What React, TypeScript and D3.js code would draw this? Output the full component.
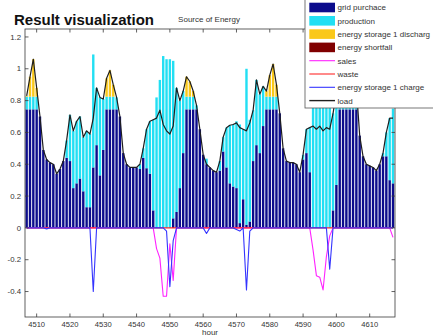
import React from 'react';
import * as d3 from 'd3';

// ---- data (hours 4507 .. 4617) ----
const startHour = 4507;

const load = [
  0.83, 0.95, 1.06, 0.88, 0.70, 0.49, 0.43, 0.41, 0.40, 0.34,
  0.37, 0.42, 0.55, 0.71, 0.61, 0.67, 0.70, 0.57, 0.61, 0.59,
  0.69, 0.88, 0.82, 0.81, 0.94, 0.99, 0.90, 0.82, 0.70, 0.47,
  0.40, 0.38, 0.38, 0.38, 0.40, 0.50, 0.62, 0.67, 0.68, 0.69,
  0.74, 0.65, 0.61, 0.59, 0.64, 0.88, 0.80, 0.86, 0.95, 0.92,
  0.86, 0.77, 0.62, 0.46, 0.40, 0.38, 0.36, 0.35, 0.42, 0.57,
  0.63, 0.645, 0.65, 0.66, 0.63, 0.62, 0.61, 0.66, 0.74, 0.93,
  0.84, 0.89, 0.86, 0.96, 1.03, 0.90, 0.72, 0.50, 0.42, 0.41,
  0.41, 0.40, 0.35, 0.46, 0.62, 0.63, 0.64, 0.62, 0.64, 0.61,
  0.63, 0.62, 0.72, 0.85, 0.95, 0.93, 0.98, 1.04, 0.95, 0.88,
  0.58, 0.45, 0.40, 0.39, 0.38, 0.36, 0.40, 0.47, 0.60, 0.69,
  0.69,
];

const gridPurchase = [
  0.745, 0.745, 0.745, 0.745, 0.70, 0.49, 0.43, 0.41, 0.40, 0.34,
  0.37, 0.42, 0.44, 0.42, 0.25, 0.28, 0.31, 0.23, 0.13, 0.13,
  0.38, 0.52, 0.33, 0.49, 0.745, 0.745, 0.745, 0.745, 0.70, 0.47,
  0.40, 0.38, 0.38, 0.38, 0.37, 0.44, 0.375, 0.34, 0.11, 0.0,
  0.0, 0.0, 0.0, 0.0, 0.06, 0.10, 0.25, 0.47, 0.745, 0.745,
  0.745, 0.745, 0.62, 0.46, 0.40, 0.38, 0.36, 0.35, 0.36, 0.48,
  0.38, 0.28, 0.26, 0.25, 0.03, 0.18, 0.02, 0.04, 0.42, 0.52,
  0.47, 0.64, 0.745, 0.745, 0.745, 0.745, 0.72, 0.50, 0.42, 0.41,
  0.41, 0.40, 0.35, 0.43, 0.47, 0.35, 0.0, 0.0, 0.0, 0.0,
  0.0, 0.0, 0.11, 0.27, 0.745, 0.745, 0.745, 0.745, 0.745, 0.745,
  0.58, 0.45, 0.40, 0.39, 0.38, 0.36, 0.40, 0.45, 0.45, 0.30,
  0.28,
];

const production = [
  0.08, 0.08, 0.08, 0.08, 0, 0, 0, 0, 0, 0,
  0, 0, 0.11, 0.29, 0.36, 0.39, 0.39, 0.34, 0.48, 0.46,
  0.71, 0.36, 0.49, 0.32, 0.08, 0.08, 0.08, 0.075, 0, 0,
  0, 0, 0, 0, 0.03, 0.06, 0.245, 0.33, 0.57, 0.82,
  0.93, 1.08, 1.06, 1.06, 0.99, 0.78, 0.55, 0.39, 0.08, 0.08,
  0.08, 0.025, 0, 0, 0.035, 0, 0, 0, 0.06, 0.09,
  0.25, 0.365, 0.39, 0.42, 0.62, 0.44, 0.98, 0.64, 0.32, 0.41,
  0.37, 0.25, 0.08, 0.08, 0.08, 0.08, 0, 0, 0, 0,
  0, 0, 0, 0.03, 0.15, 0.28, 0.78, 0.92, 0.95, 1.00,
  0.81, 0.93, 0.61, 0.58, 0.20, 0.08, 0.08, 0.08, 0.08, 0.08,
  0, 0, 0, 0, 0, 0, 0, 0.02, 0.15, 0.39,
  0.47,
];

const storageDischarge = [
  0.005, 0.125, 0.235, 0.055, 0, 0, 0, 0, 0, 0,
  0, 0, 0, 0, 0, 0, 0, 0, 0, 0,
  0, 0, 0, 0, 0.115, 0.165, 0.075, 0, 0, 0,
  0, 0, 0, 0, 0, 0, 0, 0, 0, 0,
  0, 0, 0, 0, 0, 0, 0, 0, 0.125, 0.095,
  0.035, 0, 0, 0, 0, 0, 0, 0, 0, 0,
  0, 0, 0, 0, 0, 0, 0, 0, 0, 0,
  0, 0, 0.035, 0.135, 0.205, 0.075, 0, 0, 0, 0,
  0, 0, 0, 0, 0, 0, 0, 0, 0, 0,
  0, 0, 0, 0, 0, 0.105, 0.155, 0.215, 0.125, 0.055,
  0, 0, 0, 0, 0, 0, 0, 0, 0, 0,
  0,
];

const shortfall = [
  0, 0, 0, 0, 0, 0, 0, 0, 0, 0,
  0, 0, 0, 0, 0, 0, 0, 0, 0, 0,
  0, 0, 0, 0, 0, 0, 0, 0, 0, 0,
  0, 0, 0, 0, 0, 0, 0, 0, 0, 0,
  0, 0, 0, 0, 0, 0, 0, 0, 0, 0,
  0, 0, 0, 0, 0, 0, 0, 0, 0, 0,
  0, 0, 0, 0, 0, 0, 0, 0, 0, 0,
  0, 0, 0, 0, 0, 0, 0, 0, 0, 0,
  0, 0, 0, 0, 0, 0, 0, 0, 0, 0,
  0, 0, 0, 0, 0, 0, 0, 0, 0, 0,
  0, 0, 0, 0, 0, 0, 0, 0, 0, 0,
  0,
];

const sales = [
  0, 0, 0, 0, 0, 0, 0, 0, 0, 0,
  0, 0, 0, 0, 0, 0, 0, 0, 0, 0,
  0, 0, 0, 0, 0, 0, 0, 0, 0, 0,
  0, 0, 0, 0, 0, 0, 0, 0, 0, -0.13,
  -0.19, -0.43, -0.43, -0.10, -0.33, 0, 0, 0, 0, 0,
  0, 0, 0, 0, 0, 0, 0, 0, 0, 0,
  0, 0, 0, 0, 0, 0, 0, 0, 0, 0,
  0, 0, 0, 0, 0, 0, 0, 0, 0, 0,
  0, 0, 0, 0, 0, 0, -0.14, -0.30, -0.31, -0.39,
  -0.18, -0.05, 0, 0, 0, 0, 0, 0, 0, 0,
  0, 0, 0, 0, 0, 0, 0, 0, 0, 0,
  -0.06,
];

const waste = [
  0, 0, 0, 0, 0, 0, 0, 0, 0, 0,
  0, 0, 0, 0, 0, 0, 0, 0, 0, 0,
  0, 0, 0, 0, 0, 0, 0, 0, 0, 0,
  0, 0, 0, 0, 0, 0, 0, 0, 0, 0,
  0, 0, 0, 0, 0, 0, 0, 0, 0, 0,
  0, 0, 0, 0, 0, 0, 0, 0, 0, 0,
  0, 0, 0, 0, 0, 0, 0, 0, 0, 0,
  0, 0, 0, 0, 0, 0, 0, 0, 0, 0,
  0, 0, 0, 0, 0, 0, 0, 0, 0, 0,
  0, 0, 0, 0, 0, 0, 0, 0, 0, 0,
  0, 0, 0, 0, 0, 0, 0, 0, 0, 0,
  0,
];

const storageCharge = [
  0, 0, 0, 0, 0, 0, -0.006, 0, 0, 0,
  0, 0, 0, 0, 0, 0, 0, 0, 0, 0,
  -0.40, 0, 0, 0, 0, 0, 0, 0, 0, 0,
  0, 0, 0, 0, 0, 0, 0, 0, 0, 0,
  0, 0, -0.02, -0.37, -0.08, 0, 0, 0, 0, 0,
  0, 0, 0, 0, -0.035, 0, 0, 0, 0, 0,
  0, 0, 0, -0.01, -0.02, 0, -0.39, -0.02, 0, 0,
  0, 0, 0, 0, 0, 0, 0, 0, 0, 0,
  0, 0, 0, 0, 0, 0, 0, 0, 0, 0,
  0, -0.26, 0, 0, 0, 0, 0, 0, 0, 0,
  0, 0, 0, 0, 0, 0, 0, 0, 0, 0,
  0,
];

const xTicks = [4510, 4520, 4530, 4540, 4550, 4560, 4570, 4580, 4590, 4600, 4610];
const yTicks = [-0.4, -0.2, 0, 0.2, 0.4, 0.6, 0.8, 1, 1.2];
const yTickLabels = ['-0.4', '-0.2', '0', '0.2', '0.4', '0.6', '0.8', '1', '1.2'];

const legendLabels = [
  'grid purchace',
  'production',
  'energy storage 1 discharg',
  'energy shortfall',
  'sales',
  'waste',
  'energy storage 1 charge',
  'load',
];

// ---- styling ----
const W = 433;
const H = 336;
const AX = { left: 25, right: 395, top: 29, bottom: 317 };
const barColors = ['#0c0c8c', '#22dff3', '#fac81a', '#800000'];
const lineColors = ['#ff22ff', '#ff2a2a', '#3434ff', '#1e1e1e'];
const FONT = "'Liberation Sans', Arial, Helvetica, sans-serif";
const axisColor = '#3a3a3a';
const textColor = '#333';

export default function App() {
  const hours = load.map((_, i) => startHour + i);
  const xs = d3.scaleLinear().domain([4506.5, 4617.6]).range([AX.left, AX.right]);
  const ys = d3.scaleLinear().domain([-0.56, 1.25]).range([AX.bottom, AX.top]);
  const step = xs(1) - xs(0);
  const bw = step * 0.72;

  const barSeries = [gridPurchase, production, storageDischarge, shortfall];
  const rects: JSX.Element[] = [];
  hours.forEach((h, i) => {
    let base = 0;
    barSeries.forEach((s, k) => {
      const v = s[i];
      if (v > 0) {
        const y0 = ys(base);
        const y1 = ys(base + v);
        rects.push(
          <rect
            key={`b${k}-${i}`}
            x={xs(h) - bw / 2}
            y={y1}
            width={bw}
            height={y0 - y1}
            fill={barColors[k]}
          />
        );
      }
      base += v;
    });
  });

  const lineGen = d3
    .line<number>()
    .x((_, i) => xs(hours[i]))
    .y((d) => ys(d));
  const lineSeries = [sales, waste, storageCharge, load];

  const tickLen = 3.5;
  const legendX = 305;
  const legendTop = -2;
  const legendBottom = 108;
  const rowY0 = 7.5;
  const rowStep = 13.3;

  return (
    <div style={{ position: 'absolute', left: 0, top: 0 }}>
      <svg width={W} height={H} style={{ display: 'block', background: '#fff', overflow: 'hidden' }}>
        <rect x={0} y={0} width={W} height={H} fill="#fff" />
        <defs>
          <clipPath id="axclip">
            <rect x={AX.left} y={AX.top} width={AX.right - AX.left} height={AX.bottom - AX.top} />
          </clipPath>
        </defs>

        {/* bars */}
        <g clipPath="url(#axclip)">{rects}</g>

        {/* lines */}
        <g clipPath="url(#axclip)">
          {lineSeries.map((s, k) => (
            <path
              key={`l${k}`}
              d={lineGen(s) || ''}
              fill="none"
              stroke={lineColors[k]}
              strokeWidth={k === 3 ? 1.2 : 1.1}
              strokeLinejoin="round"
            />
          ))}
        </g>

        {/* axes box */}
        <rect
          x={AX.left}
          y={AX.top}
          width={AX.right - AX.left}
          height={AX.bottom - AX.top}
          fill="none"
          stroke={axisColor}
          strokeWidth={0.8}
        />
        {xTicks.map((t) => (
          <g key={`xt${t}`}>
            <line x1={xs(t)} x2={xs(t)} y1={AX.bottom} y2={AX.bottom - tickLen} stroke={axisColor} strokeWidth={0.8} />
            <line x1={xs(t)} x2={xs(t)} y1={AX.top} y2={AX.top + tickLen} stroke={axisColor} strokeWidth={0.8} />
            <text x={xs(t)} y={326.5} textAnchor="middle" fontFamily={FONT} fontSize={7.6} fill={textColor}>
              {t}
            </text>
          </g>
        ))}
        {yTicks.map((t, i) => (
          <g key={`yt${i}`}>
            <line x1={AX.left} x2={AX.left + tickLen} y1={ys(t)} y2={ys(t)} stroke={axisColor} strokeWidth={0.8} />
            <line x1={AX.right} x2={AX.right - tickLen} y1={ys(t)} y2={ys(t)} stroke={axisColor} strokeWidth={0.8} />
            <text x={21} y={ys(t) + 2.7} textAnchor="end" fontFamily={FONT} fontSize={7.8} fill={textColor}>
              {yTickLabels[i]}
            </text>
          </g>
        ))}

        {/* titles */}
        <text x={14} y={24.5} fontFamily={FONT} fontWeight="bold" fontSize={15} fill="#111">
          Result visualization
        </text>
        <text x={209} y={22} textAnchor="middle" fontFamily={FONT} fontSize={8} fill={textColor}>
          Source of Energy
        </text>
        <text x={(AX.left + AX.right) / 2} y={335} textAnchor="middle" fontFamily={FONT} fontSize={8} fill={textColor}>
          hour
        </text>

        {/* legend */}
        <rect
          x={legendX}
          y={legendTop}
          width={W - legendX + 20}
          height={legendBottom - legendTop}
          fill="#fff"
          stroke="#555"
          strokeWidth={0.8}
        />
        {legendLabels.map((lab, i) => {
          const cy = rowY0 + rowStep * i;
          return (
            <g key={`lg${i}`}>
              {i < 4 ? (
                <rect x={309.3} y={cy - 4.8} width={25.7} height={9.6} fill={barColors[i]} />
              ) : (
                <line x1={309.3} x2={335} y1={cy} y2={cy} stroke={lineColors[i - 4]} strokeWidth={i === 7 ? 1.4 : 1.1} />
              )}
              <text x={337.5} y={cy + 2.9} fontFamily={FONT} fontSize={8} fill={textColor}>
                {lab}
              </text>
            </g>
          );
        })}
      </svg>
    </div>
  );
}
